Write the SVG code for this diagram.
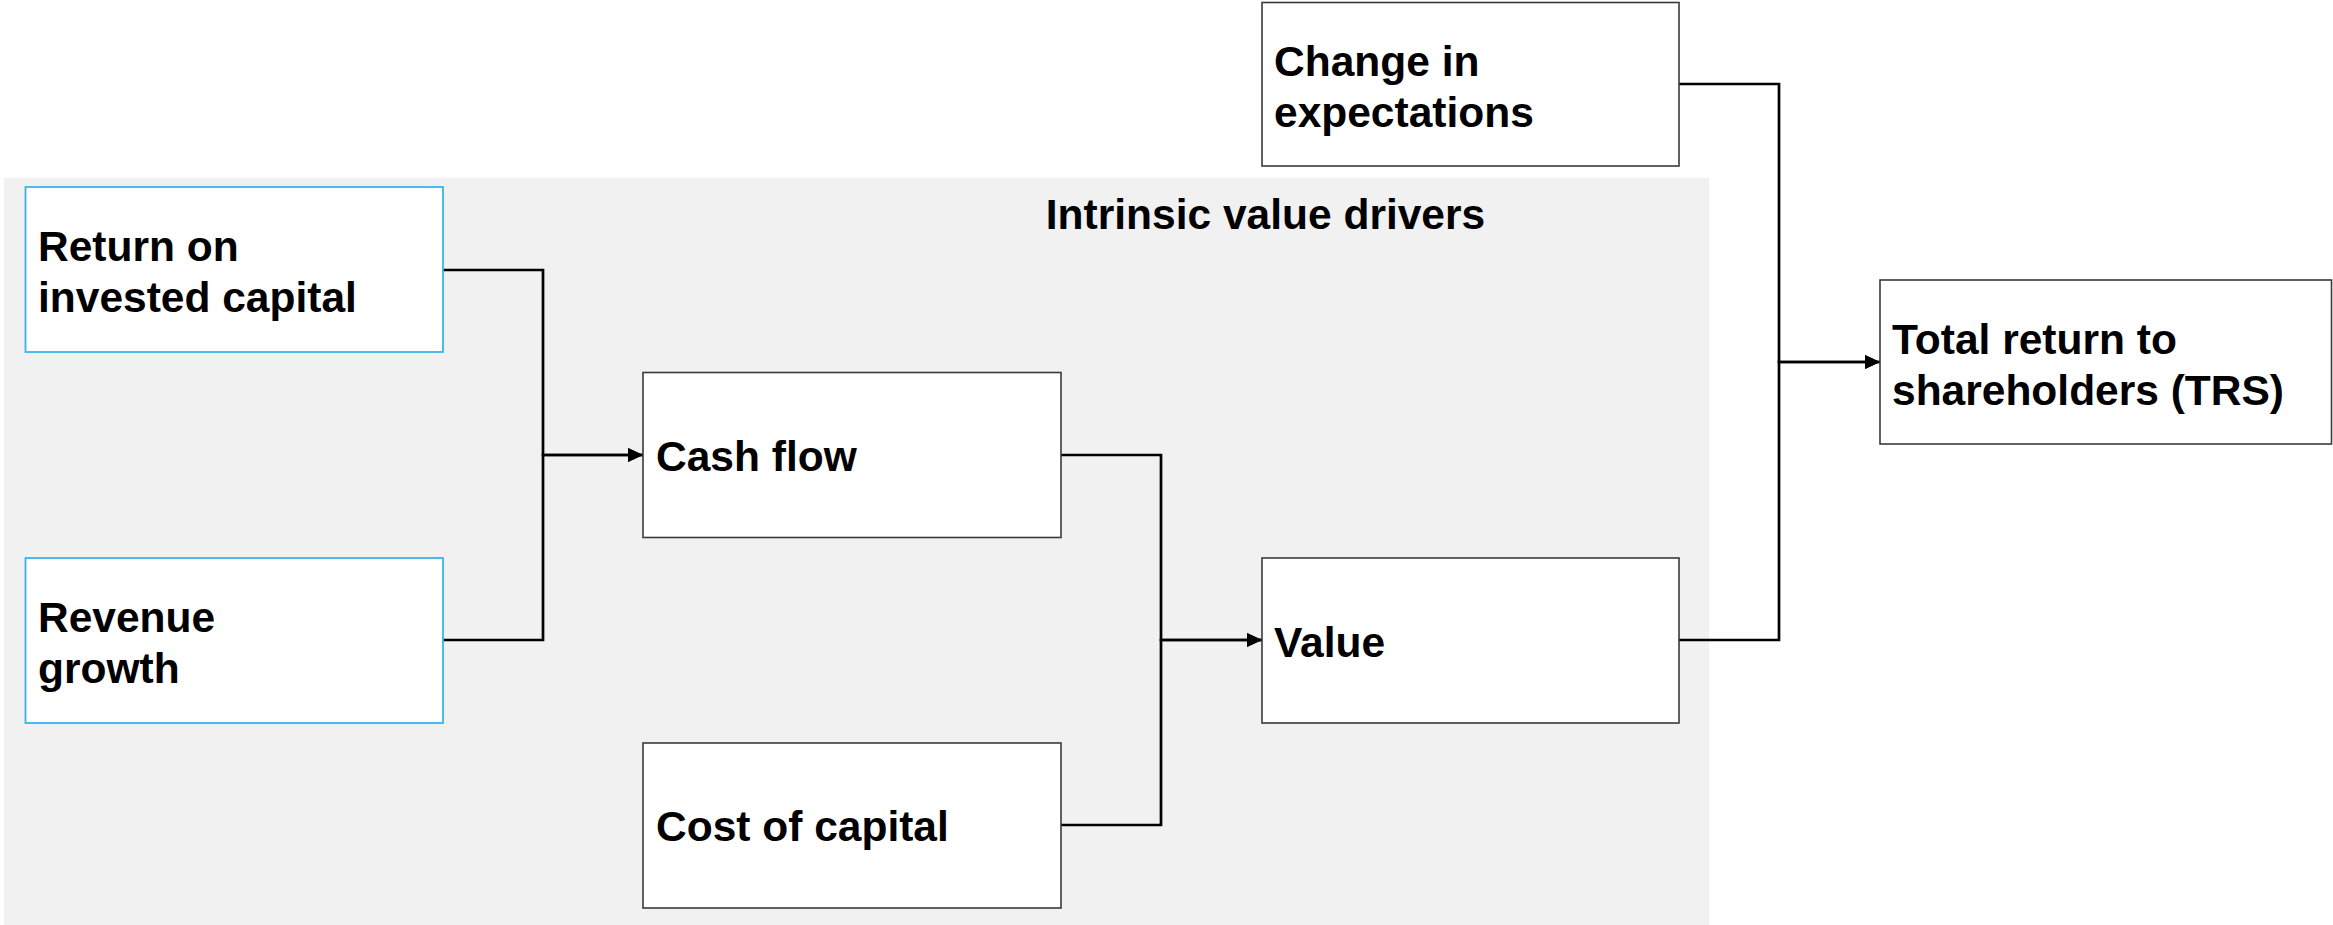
<svg xmlns="http://www.w3.org/2000/svg" width="2333" height="925" viewBox="0 0 2333 925">
  <style>
    .box { fill: #ffffff; stroke: #3a3a3a; stroke-width: 1.6; }
    .box-blue { fill: #ffffff; stroke: #3bb2ea; stroke-width: 1.8; }
    .label { font-family: "Liberation Sans", Arial, sans-serif; font-weight: bold; font-size: 42.5px; fill: #000000; }
    .wire { fill: none; stroke: #000000; stroke-width: 2.7; stroke-linejoin: miter; }
  </style>
  <defs>
    <marker id="arrow" markerUnits="userSpaceOnUse" markerWidth="16" markerHeight="14" refX="15" refY="7" orient="auto">
      <path d="M0,0 L15,7 L0,14 Z" fill="#000000"/>
    </marker>
  </defs>

  <rect width="2333" height="925" fill="#ffffff"/>

  <!-- intrinsic value drivers panel -->
  <g id="panel-intrinsic">
    <rect x="4" y="178" width="1705" height="747" fill="#f1f1f1"/>
    <text class="label" x="1265.5" y="229" text-anchor="middle">Intrinsic value drivers</text>
  </g>

  <!-- connectors -->
  <g id="connectors">
    <path class="wire" d="M443,270 H543 V455 H643" marker-end="url(#arrow)"/>
    <path class="wire" d="M443,640 H543 V455 H643" marker-end="url(#arrow)"/>
    <path class="wire" d="M1061,455 H1161 V640 H1262" marker-end="url(#arrow)"/>
    <path class="wire" d="M1061,825 H1161 V640 H1262" marker-end="url(#arrow)"/>
    <path class="wire" d="M1679,84 H1779 V362 H1880" marker-end="url(#arrow)"/>
    <path class="wire" d="M1679,640 H1779 V362 H1880" marker-end="url(#arrow)"/>
  </g>

  <g id="node-roic">
    <rect class="box-blue" x="25.5" y="187" width="417.5" height="165"/>
    <text class="label" x="38" y="261">Return on</text>
    <text class="label" x="38" y="312">invested capital</text>
  </g>

  <g id="node-revenue-growth">
    <rect class="box-blue" x="25.5" y="558" width="417.5" height="165"/>
    <text class="label" x="38" y="632">Revenue</text>
    <text class="label" x="38" y="683">growth</text>
  </g>

  <g id="node-cash-flow">
    <rect class="box" x="643" y="372.5" width="418" height="165"/>
    <text class="label" x="656" y="471">Cash flow</text>
  </g>

  <g id="node-cost-of-capital">
    <rect class="box" x="643" y="743" width="418" height="165"/>
    <text class="label" x="656" y="841">Cost of capital</text>
  </g>

  <g id="node-value">
    <rect class="box" x="1262" y="558" width="417" height="165"/>
    <text class="label" x="1274" y="657">Value</text>
  </g>

  <g id="node-change-in-expectations">
    <rect class="box" x="1262" y="2.5" width="417" height="163.5"/>
    <text class="label" x="1274" y="76">Change in</text>
    <text class="label" x="1274" y="127">expectations</text>
  </g>

  <g id="node-trs">
    <rect class="box" x="1880" y="280" width="451.5" height="164"/>
    <text class="label" x="1892" y="354">Total return to</text>
    <text class="label" x="1892" y="405">shareholders (TRS)</text>
  </g>
</svg>
